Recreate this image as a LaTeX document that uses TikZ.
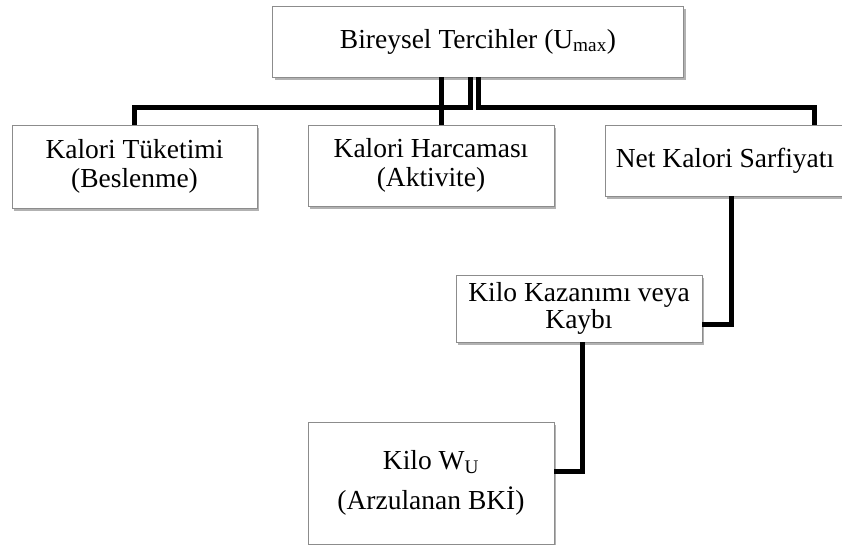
\documentclass[tikz,border=0pt]{standalone}
\usepackage{fontspec}
\setmainfont{Liberation Serif}
\usetikzlibrary{shadows}
\begin{document}
\begin{tikzpicture}[x=1pt,y=-1pt,
  box/.style={draw=black!45, line width=0.9pt, fill=white, align=center, inner sep=0pt,
    font=\fontsize{27.5}{29}\selectfont,
    drop shadow={shadow xshift=2pt, shadow yshift=-3pt, opacity=0.3, fill=black}},
  conn/.style={line width=5pt, line cap=butt, line join=miter, black}]
\useasboundingbox (0,0) rectangle (842,544);
\node[box, minimum width=411pt, minimum height=71pt] (top) at (478,41.5) {Bireysel Tercihler (U\textsubscript{max})};
\node[box, minimum width=245pt, minimum height=83pt] (left) at (134.5,166.5) {Kalori Tüketimi\\(Beslenme)};
\node[box, minimum width=246pt, minimum height=81pt] (mid) at (431,165.5) {Kalori Harcaması\\(Aktivite)};
\node[box, minimum width=240pt, minimum height=71pt] (net) at (725,160.5) {Net Kalori Sarfiyatı};
\node[box, minimum width=246pt, minimum height=67pt, font=\fontsize{27.5}{27}\selectfont] (kay) at (579,308.5) {Kilo Kazanımı veya\\Kaybı};
\node[box, minimum width=246pt, minimum height=122pt, font=\fontsize{27.5}{40}\selectfont] (kilo) at (431,483) {Kilo W\textsubscript{U}\\(Arzulanan BKİ)};
\draw[conn] ([xshift=-8pt]top.south) -- ++(0,30) -| (left.north);
\draw[conn] ([xshift=10pt]mid.north) -- ([xshift=10pt]mid.north |- top.south);
\draw[conn] (top.south) -- ++(0,30) -| ([xshift=89pt]net.north);
\draw[conn] ([xshift=6pt]net.south) |- ([yshift=-16pt]kay.east);
\draw[conn] ([xshift=3pt]kay.south) |- ([yshift=11.5pt]kilo.east);
\end{tikzpicture}
\end{document}
